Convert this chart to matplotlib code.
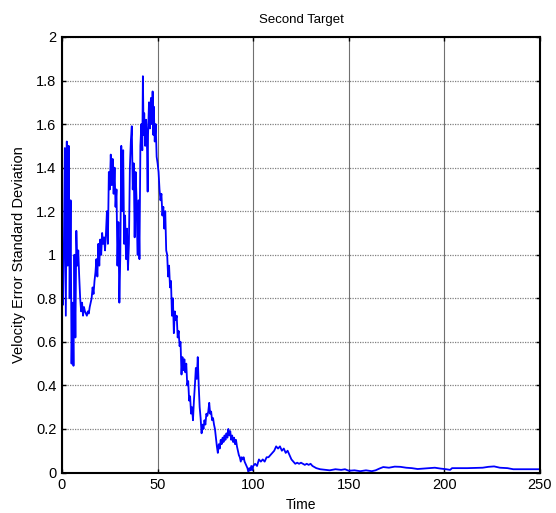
import matplotlib
matplotlib.use("Agg")
import matplotlib.pyplot as plt

plt.rcParams['font.family'] = ['Liberation Sans', 'DejaVu Sans']

time = [
    0.0, 0.5, 1.0, 1.5, 2.0, 2.5, 3.0, 3.5, 4.0, 4.5, 5.0, 5.5, 6.0, 6.5, 7.0, 7.5, 8.0, 8.5, 9.0, 9.5,
    10.0, 10.5, 11.0, 11.5, 12.0, 12.5, 13.0, 13.5, 14.0, 14.5, 15.0, 15.5, 16.0, 16.5, 17.0, 17.5, 18.0, 18.5, 19.0, 19.5,
    20.0, 20.5, 21.0, 21.5, 22.0, 22.5, 23.0, 23.5, 24.0, 24.5, 25.0, 25.5, 26.0, 26.5, 27.0, 27.5, 28.0, 28.5, 29.0, 29.5,
    30.0, 30.5, 31.0, 31.5, 32.0, 32.5, 33.0, 33.5, 34.0, 34.5, 35.0, 35.5, 36.0, 36.5, 37.0, 37.5, 38.0, 38.5, 39.0, 39.5,
    40.0, 40.5, 41.0, 41.5, 42.0, 42.3, 42.7, 43.0, 43.5, 44.0, 44.5, 44.8, 45.0, 45.5, 46.0, 46.5, 47.0, 47.4, 47.8, 48.0,
    48.5, 49.0, 49.5, 50.0, 50.5, 51.0, 51.5, 52.0, 52.5, 53.0, 53.5, 54.0, 54.5, 55.0, 55.5, 56.0, 56.5, 57.0, 57.5, 58.0,
    58.5, 59.0, 59.5, 60.0, 60.5, 61.0, 61.5, 62.0, 62.5, 63.0, 63.5, 64.0, 64.5, 65.0, 65.5, 66.0, 66.5, 67.0, 67.5, 68.0,
    68.5, 69.0, 69.5, 70.0, 70.5, 71.0, 71.5, 72.0, 72.5, 73.0, 73.5, 74.0, 74.5, 75.0, 75.5, 76.0, 76.5, 77.0, 77.5, 78.0,
    78.5, 79.0, 79.5, 80.0, 80.5, 81.0, 81.5, 82.0, 82.5, 83.0, 83.5, 84.0, 84.5, 85.0, 85.5, 86.0, 86.5, 87.0, 87.5, 88.0,
    88.5, 89.0, 89.5, 90.0, 90.5, 91.0, 91.5, 92.0, 92.5, 93.0, 93.5, 94.0, 94.5, 95.0, 95.5, 96.0, 96.5, 97.0, 97.5, 98.0,
    98.5, 99.0, 99.5, 100, 101, 102, 103, 104, 105, 106, 107, 108, 109, 110, 111, 112, 113, 114, 115, 116,
    117, 118, 119, 120, 121, 122, 123, 124, 125, 126, 127, 128, 129, 130, 131, 132, 133, 135, 138, 140,
    143, 146, 148, 150, 153, 156, 159, 162, 164, 166, 168, 171, 174, 177, 180, 183, 186, 189, 192, 195,
    198, 201, 203, 204, 208, 212, 216, 220, 223, 226, 229, 233, 236, 240, 245, 250,
]

velocity_err_std = [
    1.00, 0.77, 1.05, 1.49, 0.72, 1.52, 0.95, 1.50, 0.80, 1.25, 0.50, 0.78, 0.49, 1.00, 0.62, 1.11, 0.95, 1.02, 0.90, 0.80,
    0.74, 0.78, 0.72, 0.76, 0.74, 0.73, 0.72, 0.74, 0.73, 0.76, 0.78, 0.80, 0.85, 0.82, 0.88, 0.92, 0.98, 0.90, 1.05, 0.95,
    1.07, 1.00, 1.10, 1.05, 1.08, 1.02, 1.10, 1.20, 1.05, 1.38, 1.30, 1.46, 1.32, 1.44, 1.28, 1.40, 1.22, 1.30, 0.95, 1.15,
    0.78, 1.00, 1.50, 1.20, 1.48, 1.05, 1.18, 0.98, 1.12, 0.93, 1.05, 1.40, 1.52, 1.59, 1.30, 1.42, 1.08, 1.38, 1.25, 1.00,
    1.25, 0.98, 1.50, 1.60, 1.48, 1.82, 1.55, 1.65, 1.50, 1.62, 1.48, 1.29, 1.55, 1.70, 1.58, 1.72, 1.60, 1.75, 1.55, 1.68,
    1.52, 1.60, 1.45, 1.42, 1.38, 1.30, 1.25, 1.28, 1.18, 1.22, 1.12, 1.20, 1.02, 1.00, 0.90, 0.95, 0.85, 0.88, 0.72, 0.80,
    0.64, 0.74, 0.70, 0.72, 0.62, 0.65, 0.58, 0.60, 0.45, 0.53, 0.47, 0.52, 0.46, 0.50, 0.40, 0.42, 0.33, 0.35, 0.27, 0.30,
    0.24, 0.33, 0.40, 0.48, 0.43, 0.53, 0.40, 0.30, 0.25, 0.18, 0.22, 0.20, 0.24, 0.22, 0.27, 0.26, 0.28, 0.32, 0.27, 0.28,
    0.24, 0.25, 0.22, 0.20, 0.16, 0.12, 0.09, 0.13, 0.11, 0.15, 0.13, 0.16, 0.14, 0.17, 0.15, 0.18, 0.16, 0.20, 0.17, 0.19,
    0.15, 0.17, 0.14, 0.16, 0.13, 0.15, 0.12, 0.10, 0.08, 0.07, 0.05, 0.07, 0.06, 0.07, 0.05, 0.04, 0.03, 0.02, 0.00, 0.02,
    0.01, 0.03, 0.01, 0.03, 0.04, 0.03, 0.06, 0.05, 0.06, 0.05, 0.07, 0.07, 0.08, 0.09, 0.10, 0.12, 0.11, 0.12, 0.10, 0.11,
    0.09, 0.10, 0.08, 0.06, 0.05, 0.04, 0.045, 0.04, 0.045, 0.04, 0.035, 0.04, 0.035, 0.04, 0.03, 0.025, 0.02, 0.015, 0.012, 0.01,
    0.015, 0.012, 0.015, 0.008, 0.01, 0.006, 0.01, 0.006, 0.01, 0.018, 0.025, 0.022, 0.027, 0.026, 0.022, 0.02, 0.016, 0.018, 0.02, 0.022,
    0.018, 0.015, 0.012, 0.02, 0.02, 0.02, 0.021, 0.022, 0.026, 0.028, 0.022, 0.02, 0.015, 0.015, 0.015, 0.015,
]

x_ticks = [0, 50, 100, 150, 200, 250]
y_ticks = [0, 0.2, 0.4, 0.6, 0.8, 1, 1.2, 1.4, 1.6, 1.8, 2]
y_tick_labels = ['0', '0.2', '0.4', '0.6', '0.8', '1', '1.2', '1.4', '1.6', '1.8', '2']

fig = plt.figure(figsize=(5.56, 5.13), dpi=100)
ax = fig.add_axes([62/556, (513-472.5)/513, (540-62)/556, (472.5-37)/513])

ax.plot(time, velocity_err_std, color='#0000ff', lw=1.3)

ax.set_xlim(0, 250)
ax.set_ylim(0, 2)
ax.set_xticks(x_ticks)
ax.set_xticklabels([str(v) for v in x_ticks])
ax.set_yticks(y_ticks)
ax.set_yticklabels(y_tick_labels)

ax.xaxis.grid(True, color='#707070', lw=0.8, ls='-')
ax.yaxis.grid(True, color='#808080', lw=0.9, ls=(0, (1, 1)))
ax.set_axisbelow(True)

ax.tick_params(direction='in', top=True, right=True, length=3, width=1,
               labelsize=10.5, pad=4, colors='black')
for s in ax.spines.values():
    s.set_linewidth(1.5)
    s.set_color('black')

ax.set_title('Second Target', fontsize=9.5, pad=10)
ax.set_xlabel('Time', fontsize=10, labelpad=4)
ax.set_ylabel('Velocity Error Standard Deviation', fontsize=10.5, labelpad=7)

fig.savefig('out.png', dpi=100)
